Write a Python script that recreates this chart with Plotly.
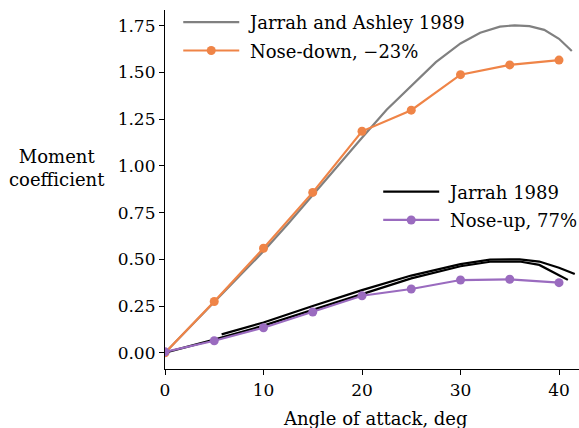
import plotly.graph_objects as go

# Angle of attack (deg) for the measured cases
alpha_pts = [0, 5, 10, 15, 20, 25, 30, 35, 40]
cm_nose_down = [0.0, 0.274, 0.559, 0.858, 1.185, 1.298, 1.488, 1.540, 1.566]
cm_nose_up = [0.005, 0.064, 0.134, 0.218, 0.305, 0.341, 0.389, 0.393, 0.375]

# Reference curve: Jarrah and Ashley 1989
alpha_ja = [0, 2.5, 5, 7.5, 10, 12.5, 15, 17.5, 20, 22.5, 25, 27.5, 30, 32, 34, 35.5, 37, 38.5, 40, 41.3]
cm_ja = [0.0, 0.135, 0.272, 0.405, 0.543, 0.69, 0.845, 0.995, 1.15, 1.30, 1.43, 1.555, 1.655, 1.712,
         1.745, 1.752, 1.748, 1.728, 1.68, 1.615]

# Reference curve: Jarrah 1989 (two branches, pitch-up and pitch-down)
alpha_j_up = [0, 5, 10, 15, 20, 25, 30, 33, 36, 38, 40, 40.9]
cm_j_up = [0.0, 0.07, 0.145, 0.228, 0.312, 0.398, 0.463, 0.487, 0.488, 0.47, 0.415, 0.39]
alpha_j_dn = [5.75, 10, 15, 20, 25, 30, 33, 36, 38, 40, 41.6]
cm_j_dn = [0.098, 0.162, 0.25, 0.335, 0.413, 0.474, 0.498, 0.500, 0.488, 0.455, 0.421]

x_ticks = [0, 10, 20, 30, 40]
y_ticks = [0.0, 0.25, 0.5, 0.75, 1.0, 1.25, 1.5, 1.75]

FONT = "DejaVu Serif"
FS = 18       # labels, legend
FS_TICK = 17  # tick labels
GRAY = "#808080"
ORANGE = "#ef8447"
PURPLE = "#9a6bbf"
PAD = "\u00a0"  # small gap between legend sample and label

fig = go.Figure()

fig.add_trace(go.Scatter(
    x=alpha_ja, y=cm_ja, mode="lines", name=PAD + "Jarrah and Ashley 1989",
    line=dict(color=GRAY, width=2.2), legend="legend", legendgroup="a"))
fig.add_trace(go.Scatter(
    x=alpha_pts, y=cm_nose_down, mode="lines+markers", name=PAD + "Nose-down, \u221223%",
    line=dict(color=ORANGE, width=2.2), marker=dict(size=9, color=ORANGE),
    legend="legend", legendgroup="b"))

fig.add_trace(go.Scatter(
    x=alpha_j_up + [None] + alpha_j_dn, y=cm_j_up + [None] + cm_j_dn,
    mode="lines", name=PAD + "Jarrah 1989", connectgaps=False,
    line=dict(color="black", width=2.2), legend="legend2", legendgroup="c"))
fig.add_trace(go.Scatter(
    x=alpha_pts, y=cm_nose_up, mode="lines+markers", name=PAD + "Nose-up, 77%",
    line=dict(color=PURPLE, width=2.2), marker=dict(size=9, color=PURPLE),
    legend="legend2", legendgroup="d"))

axis_common = dict(
    showgrid=False, zeroline=False, showline=True, linecolor="black", linewidth=1.2,
    ticks="outside", ticklen=5, tickwidth=1.2, tickcolor="black", automargin=False,
    tickfont=dict(family=FONT, size=FS_TICK, color="black"),
)

fig.update_layout(
    template="none",
    width=579, height=428,
    margin=dict(l=165, r=0, t=10, b=59, autoexpand=False),
    plot_bgcolor="white", paper_bgcolor="white",
    font=dict(family=FONT, size=FS, color="black"),
    xaxis=dict(range=[0, 42.03], tickvals=x_ticks, **axis_common),
    yaxis=dict(range=[-0.087, 1.834], tickvals=y_ticks, tickformat=".2f", **axis_common),
    legend=dict(x=0.032, y=1.017, xanchor="left", yanchor="top", bgcolor="rgba(0,0,0,0)",
                font=dict(family=FONT, size=FS), itemwidth=56, tracegroupgap=2,
                traceorder="grouped"),
    legend2=dict(x=0.515, y=0.545, xanchor="left", yanchor="top", bgcolor="rgba(0,0,0,0)",
                 font=dict(family=FONT, size=FS), itemwidth=56, tracegroupgap=2,
                 traceorder="grouped"),
    annotations=[
        dict(text="Moment<br>coefficient", xref="paper", yref="paper", x=-0.261, y=0.56,
             xanchor="center", yanchor="middle", showarrow=False,
             font=dict(family=FONT, size=FS)),
        dict(text="Angle of attack, deg", xref="paper", yref="paper", x=0.508, y=-0.1365,
             xanchor="center", yanchor="middle", showarrow=False,
             font=dict(family=FONT, size=FS)),
    ],
)

fig.write_html("out.html")
